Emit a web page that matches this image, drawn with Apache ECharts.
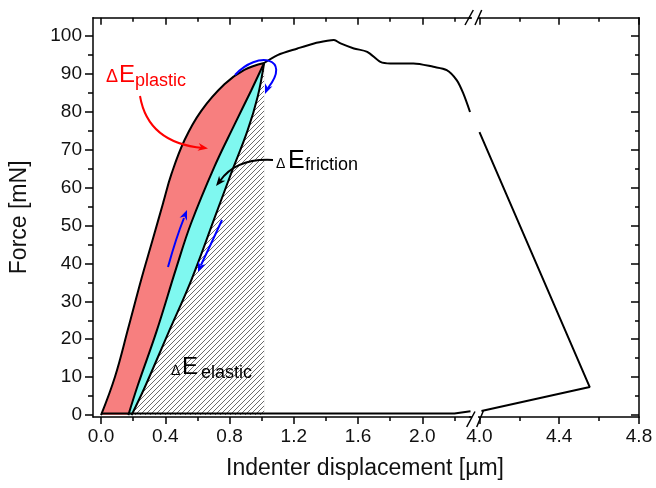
<!DOCTYPE html>
<html>
<head>
<meta charset="utf-8">
<script src="https://cdn.jsdelivr.net/npm/echarts@6/dist/echarts.min.js"></script>
<style>
html, body { margin: 0; padding: 0; background: #fff; }
#main { width: 656px; height: 488px; }
</style>
</head>
<body>
<div id="main"></div>
<script>
// values: x in µm, y in mN
var loadX = [0, 0.087, 0.17, 0.252, 0.32, 0.387, 0.438, 0.52, 0.624, 0.768, 0.892, 1.015];
var loadY = [0, 10.1, 23, 36, 46, 56, 63.5, 72.5, 80.2, 87.2, 91, 92.8];
var reloadX = [0.17, 0.23, 0.345, 0.47, 0.56, 0.706, 0.83, 0.934, 1.015];
var reloadY = [0, 8, 22, 39, 50.5, 65.5, 76.5, 85.5, 92.8];
var unloadX = [0.19, 0.273, 0.417, 0.562, 0.72, 0.81, 0.913, 0.975, 1.015];
var unloadY = [0, 7.4, 21.5, 35.6, 53.5, 63.7, 75.1, 83.9, 92.8];
var tailX = [1.015, 1.099, 1.223, 1.326, 1.409, 1.45, 1.491, 1.574, 1.657, 1.739, 1.801, 1.945, 2.069, 2.152, 2.214, 2.255, 2.297];
var tailY = [92.8, 94.9, 96.65, 97.97, 98.65, 98.84, 97.97, 96.65, 95.76, 93.12, 92.7, 92.7, 91.8, 90.93, 88.3, 84.8, 79.9];
var baseX = [0, 2.2, 2.3];
var baseY = [0.4, 0.4, 1.0];
var endX = [4.0, 4.553, 4.01];
var endY = [74.6, 7.4, 1.1];

var xMajorLeft = [0, 0.4, 0.8, 1.2, 1.6, 2.0];
var xMinorLeft = [0.2, 0.6, 1.0, 1.4, 1.8, 2.2];
var xMajorRight = [4.0, 4.4, 4.8];
var xMinorRight = [4.2, 4.6];
var yMajor = [0, 10, 20, 30, 40, 50, 60, 70, 80, 90, 100];
var yMinor = [5, 15, 25, 35, 45, 55, 65, 75, 85, 95];

function pairs(xs, ys) {
    return xs.map(function (x, i) { return [x, ys[i]]; });
}

var FONT = 'Liberation Sans';

// hatch for the elastic part
var hatch = document.createElement('canvas');
hatch.width = 5;
hatch.height = 5;
var hctx = hatch.getContext('2d');
hctx.fillStyle = '#fff';
hctx.fillRect(0, 0, 5, 5);
hctx.strokeStyle = '#5a5a5a';
hctx.lineWidth = 0.9;
hctx.beginPath();
hctx.moveTo(0, 5); hctx.lineTo(5, 0);
hctx.moveTo(-1, 1); hctx.lineTo(1, -1);
hctx.moveTo(4, 6); hctx.lineTo(6, 4);
hctx.stroke();

function xAxisOf(grid, pos, min, max, ticks, len, inside, labels, line) {
    return {
        type: 'value', gridIndex: grid, position: pos, min: min, max: max,
        axisLine: { show: line, onZero: false, lineStyle: { color: '#000', width: 1.5 } },
        axisTick: { show: true, inside: inside, length: len, customValues: ticks,
            lineStyle: { color: '#000', width: 1.5 } },
        axisLabel: { show: labels, customValues: ticks, margin: 10,
            fontSize: 19, fontFamily: FONT, color: '#111',
            formatter: function (v) { return v.toFixed(1); } },
        splitLine: { show: false }
    };
}
function yAxisOf(grid, pos, ticks, len, inside, labels, line) {
    return {
        type: 'value', gridIndex: grid, position: pos, min: -0.5, max: 104.75,
        axisLine: { show: line, onZero: false, lineStyle: { color: '#000', width: 1.5 } },
        axisTick: { show: true, inside: inside, length: len, customValues: ticks,
            lineStyle: { color: '#000', width: 1.5 } },
        axisLabel: { show: labels, customValues: ticks, margin: 11,
            fontSize: 19, fontFamily: FONT, color: '#111' },
        splitLine: { show: false }
    };
}

var xAxes = [
    xAxisOf(0, 'bottom', -0.05, 2.3, xMajorLeft, 7, false, true, true),
    xAxisOf(0, 'bottom', -0.05, 2.3, xMinorLeft, 4, false, false, false),
    xAxisOf(0, 'top', -0.05, 2.3, xMajorLeft, 7, true, false, true),
    xAxisOf(0, 'top', -0.05, 2.3, xMinorLeft, 4, true, false, false),
    xAxisOf(1, 'bottom', 3.95, 4.8, xMajorRight, 7, false, true, true),
    xAxisOf(1, 'bottom', 3.95, 4.8, xMinorRight, 4, false, false, false),
    xAxisOf(1, 'top', 3.95, 4.8, xMajorRight, 7, true, false, true),
    xAxisOf(1, 'top', 3.95, 4.8, xMinorRight, 4, true, false, false)
];
var yAxes = [
    yAxisOf(0, 'left', yMajor, 8, false, true, true),
    yAxisOf(0, 'left', yMinor, 5, false, false, false),
    yAxisOf(1, 'right', yMajor, 8, true, false, true),
    yAxisOf(1, 'right', yMinor, 4, true, false, false)
];
yAxes[0].name = 'Force [mN]';
yAxes[0].nameLocation = 'middle';
yAxes[0].nameGap = 62;
yAxes[0].nameTextStyle = { fontSize: 23, fontFamily: FONT, color: '#111' };

function area(xs, ys, color, z) {
    return {
        type: 'line', xAxisIndex: 0, yAxisIndex: 0, data: pairs(xs, ys),
        smooth: 0.4, showSymbol: false, silent: true, z: z,
        lineStyle: { width: 0 }, areaStyle: { color: color, opacity: 1 }
    };
}
function curve(xs, ys, xi, yi, smooth) {
    return {
        type: 'line', xAxisIndex: xi, yAxisIndex: yi, data: pairs(xs, ys),
        smooth: smooth, showSymbol: false, silent: true, z: 10,
        lineStyle: { color: '#000', width: 2 }
    };
}

// arrowhead triangle at tip, pointing away from (fx, fy)
function head(tx, ty, fx, fy, color) {
    var dx = tx - fx, dy = ty - fy, l = Math.sqrt(dx * dx + dy * dy);
    dx /= l; dy /= l;
    var L = 10, W = 4;
    return {
        type: 'polygon', z: 100, silent: true,
        shape: { points: [[tx, ty],
            [tx - dx * L - dy * W, ty - dy * L + dx * W],
            [tx - dx * L * 0.7, ty - dy * L * 0.7],
            [tx - dx * L + dy * W, ty - dy * L - dx * W]] },
        style: { fill: color }
    };
}
function txt(s, x, y, size, color) {
    return {
        type: 'text', x: x, y: y, z: 100, silent: true,
        style: { text: s, fontSize: size, fontFamily: FONT, fill: color,
            align: 'left', verticalAlign: 'middle' }
    };
}
function seg(x1, y1, x2, y2, color, w) {
    return { type: 'line', z: 100, silent: true, shape: { x1: x1, y1: y1, x2: x2, y2: y2 },
        style: { stroke: color, lineWidth: w } };
}
function bez(p, color) {
    var s = { x1: p[0], y1: p[1], cpx1: p[2], cpy1: p[3], x2: p[p.length - 2], y2: p[p.length - 1] };
    if (p.length === 8) { s.cpx2 = p[4]; s.cpy2 = p[5]; }
    return { type: 'bezierCurve', z: 100, silent: true, shape: s,
        style: { stroke: color, lineWidth: 2, fill: null } };
}

var graphic = [
    // axis break
    { type: 'rect', z: 90, silent: true, shape: { x: 472, y: 13, width: 6, height: 8 }, style: { fill: '#fff' } },
    { type: 'rect', z: 90, silent: true, shape: { x: 472, y: 413, width: 6, height: 8 }, style: { fill: '#fff' } },
    seg(465, 25, 473.3, 10, '#000', 1.5),
    seg(475, 25, 481.7, 10, '#000', 1.5),
    seg(466.7, 427, 475, 411.5, '#000', 1.5),
    seg(476.7, 427, 483.3, 411, '#000', 1.5),
    // x title
    { type: 'text', x: 365, y: 469, z: 100, silent: true,
        style: { text: 'Indenter displacement [µm]', fontSize: 23, fontFamily: FONT, fill: '#111',
            align: 'center', verticalAlign: 'middle' } },
    // ΔE plastic
    txt('Δ', 106, 77, 18, '#ff0000'),
    txt('E', 119, 75, 24, '#ff0000'),
    txt('plastic', 135, 81, 18, '#ff0000'),
    bez([140, 96, 148, 143, 203, 148], '#ff0000'),
    head(208, 148.5, 196, 146.5, '#ff0000'),
    // ΔE friction
    txt('Δ', 276, 164, 14, '#000'),
    txt('E', 288, 161, 25, '#000'),
    txt('friction', 305, 165, 18, '#000'),
    bez([273, 160, 236, 158, 220, 181], '#000'),
    head(216, 186, 224, 176, '#000'),
    // ΔE elastic
    txt('Δ', 171, 371, 14, '#000'),
    txt('E', 182, 367, 24, '#000'),
    txt('elastic', 201, 373, 18, '#000'),
    // blue direction arrows
    bez([235, 75, 258, 50, 292, 58, 268, 88], '#0000ff'),
    head(265, 94, 269, 84, '#0000ff'),
    bez([168, 267, 176, 238, 184, 218], '#0000ff'),
    head(187, 210, 183, 220, '#0000ff'),
    bez([222, 220, 211, 244, 201, 265], '#0000ff'),
    head(198, 272, 202, 262, '#0000ff')
];

var chart = echarts.init(document.getElementById('main'), null, { renderer: 'canvas' });
chart.setOption({
    animation: false,
    backgroundColor: '#fff',
    textStyle: { fontFamily: FONT },
    grid: [
        { left: 91.5, top: 17.7, width: 379, height: 399.3 },
        { left: 469.5, top: 17.7, width: 169.5, height: 399.3 }
    ],
    xAxis: xAxes,
    yAxis: yAxes,
    series: [
        area(loadX, loadY, '#f77f7f', 1),
        area(reloadX, reloadY, '#7ff8f0', 2),
        area(unloadX, unloadY, { image: hatch, repeat: 'repeat' }, 3),
        curve(loadX, loadY, 0, 0, 0.4),
        curve(reloadX, reloadY, 0, 0, 0.4),
        curve(unloadX, unloadY, 0, 0, 0.4),
        curve(tailX, tailY, 0, 0, 0.3),
        curve(baseX, baseY, 0, 0, false),
        curve(endX, endY, 4, 2, false)
    ],
    graphic: graphic
});
</script>
</body>
</html>
